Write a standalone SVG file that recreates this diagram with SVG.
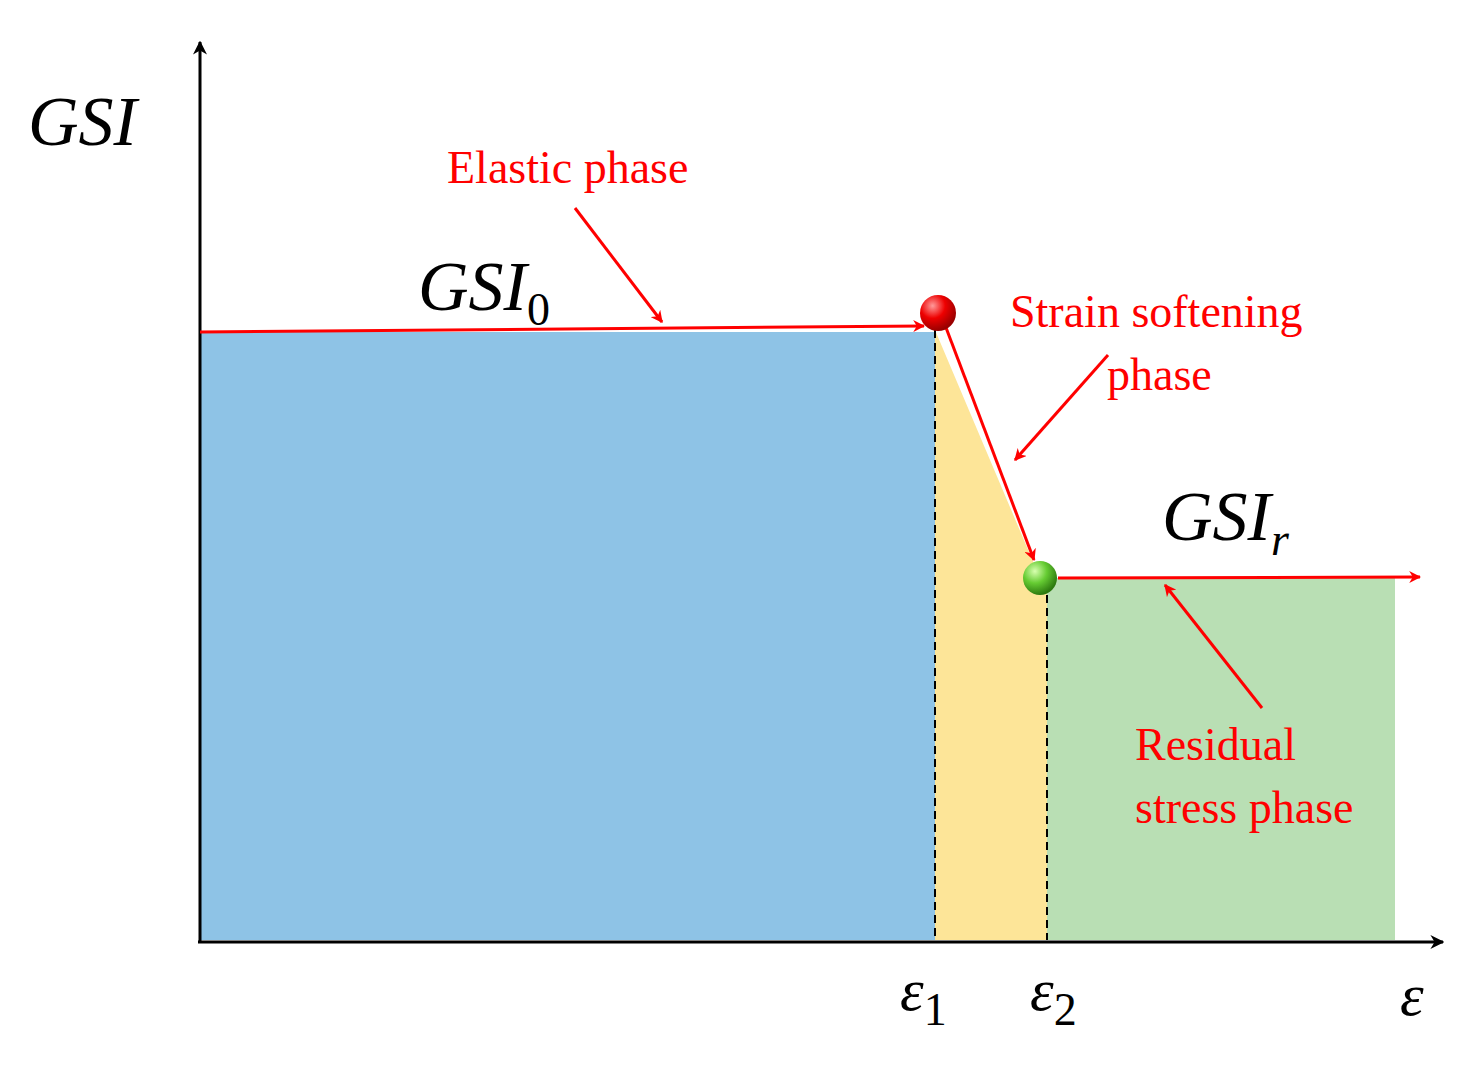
<svg xmlns="http://www.w3.org/2000/svg" width="1476" height="1065" viewBox="0 0 1476 1065">
<style>
.r{fill:#ff0000;font-family:"Liberation Serif",serif;font-size:46px}
.m{fill:#000;font-family:"Liberation Serif",serif;font-style:italic}
.ra{stroke:#ff0000;stroke-width:3;fill:none}
</style>
<defs>
<marker id="ah" viewBox="0 0 20 20" refX="18" refY="10" markerWidth="12" markerHeight="12" markerUnits="userSpaceOnUse" orient="auto"><path d="M0,0 L20,10 L0,20 L6,10 Z" fill="#ff0000"/></marker>
<marker id="ak" viewBox="0 0 20 20" refX="18" refY="10" markerWidth="14" markerHeight="14" markerUnits="userSpaceOnUse" orient="auto"><path d="M0,0 L20,10 L0,20 L6,10 Z" fill="#000"/></marker>
<radialGradient id="gr" cx="0.35" cy="0.3" r="0.7"><stop offset="0" stop-color="#ff9a9a"/><stop offset="0.5" stop-color="#ee0000"/><stop offset="1" stop-color="#900"/></radialGradient>
<radialGradient id="gg" cx="0.35" cy="0.3" r="0.7"><stop offset="0" stop-color="#d8ffb0"/><stop offset="0.5" stop-color="#66cc33"/><stop offset="1" stop-color="#2d7a10"/></radialGradient>
</defs>
<rect width="1476" height="1065" fill="#fff"/>
<g id="areas">
<rect x="200" y="332" width="735" height="608" fill="#8EC3E6"/>
<polygon points="935,330 1040,578 1047,578 1047,940 935,940" fill="#FDE598"/>
<rect x="1047" y="578" width="348" height="362" fill="#B9DFB4"/>
</g>
<g id="connectors">
<line x1="200" y1="942" x2="200" y2="42" stroke="#000" stroke-width="3" marker-end="url(#ak)"/>
<line x1="198" y1="942" x2="1443" y2="942" stroke="#000" stroke-width="3" marker-end="url(#ak)"/>
<line x1="935" y1="330" x2="935" y2="940" stroke="#000" stroke-width="2" stroke-dasharray="8,5"/>
<line x1="1047" y1="595" x2="1047" y2="940" stroke="#000" stroke-width="2" stroke-dasharray="8,5"/>
<line class="ra" x1="200" y1="332" x2="924" y2="326" marker-end="url(#ah)"/>
<line class="ra" x1="945" y1="325" x2="1034" y2="560" marker-end="url(#ah)"/>
<line class="ra" x1="1058" y1="578" x2="1420" y2="577" marker-end="url(#ah)"/>
<line class="ra" x1="575" y1="208" x2="662" y2="322" marker-end="url(#ah)"/>
<line class="ra" x1="1108" y1="355" x2="1015" y2="460" marker-end="url(#ah)"/>
<line class="ra" x1="1262" y1="708" x2="1165" y2="585" marker-end="url(#ah)"/>
</g>
<g id="n1"><circle cx="938" cy="313" r="18" fill="url(#gr)"/></g>
<g id="n2"><circle cx="1040" cy="578" r="17" fill="url(#gg)"/></g>
<g id="labels">
<text class="m" x="28" y="145" font-size="70">GSI</text>
<text class="m" x="418" y="310" font-size="70">GSI<tspan font-style="normal" font-size="46" dy="15">0</tspan></text>
<text class="m" x="1162" y="540" font-size="70">GSI<tspan font-size="46" dy="15">r</tspan></text>
<text class="r" x="447" y="183">Elastic  phase</text>
<text class="r" x="1010" y="327">Strain  softening</text>
<text class="r" x="1107" y="390">phase</text>
<text class="r" x="1135" y="760">Residual</text>
<text class="r" x="1135" y="823">stress phase</text>
<text class="m" x="900" y="1010" font-size="60">ε<tspan font-style="normal" font-size="46" dy="15">1</tspan></text>
<text class="m" x="1030" y="1010" font-size="60">ε<tspan font-style="normal" font-size="46" dy="15">2</tspan></text>
<text class="m" x="1400" y="1015" font-size="60">ε</text>
</g>
</svg>
